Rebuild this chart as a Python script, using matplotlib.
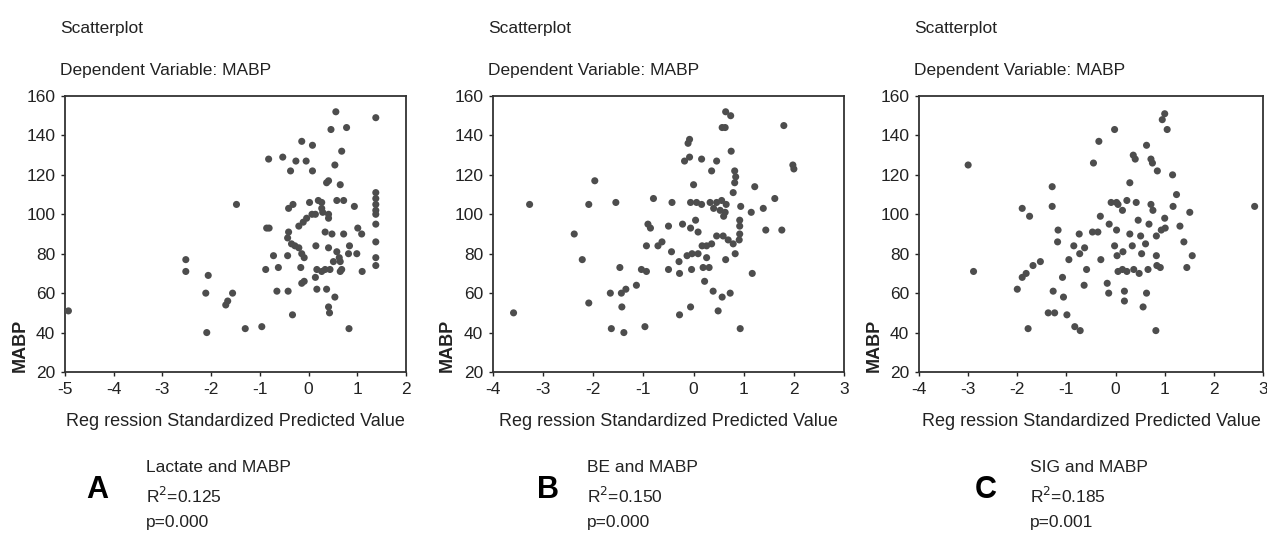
import matplotlib
matplotlib.use("Agg")
import matplotlib.pyplot as plt

FONT = ["Liberation Sans Narrow", "Liberation Sans", "DejaVu Sans"]
plt.rcParams['font.family'] = FONT

# ---------------- data ----------------
x_ticks_a = [-5, -4, -3, -2, -1, 0, 1, 2]
x_ticks_bc = [-4, -3, -2, -1, 0, 1, 2, 3]
y_ticks = [20, 40, 60, 80, 100, 120, 140, 160]

a_x = [-4.93, -1.48, -2.52, -2.52, -2.06, -2.11, -2.09, -1.70, -1.66, -1.56,
       -1.30, -0.96, -0.86, -0.81, -0.82, -0.53, -0.26, -0.05, -0.37, -0.14,
       0.08, 0.08, 0.56, 0.46, 0.78, 1.38, 0.68, 0.54, 0.37, 0.41,
       0.65, 0.58, 0.72, 0.94, 1.38, 1.38, 1.38, 1.38, 1.38, 1.38,
       1.38, 1.38, 1.38, 1.10, 1.01, 1.09, 0.84, 0.82, 0.99, 0.83,
       0.54, 0.41, 0.43, 0.37, 0.17, -0.14, -0.09, -0.33, -0.65, -0.42,
       -0.88, -0.62, -0.72, -0.43, -0.41, -0.43, -0.35, -0.28, -0.20, -0.14,
       -0.09, -0.16, -0.41, -0.32, -0.20, -0.11, -0.04, 0.07, 0.14, 0.02,
       0.20, 0.27, 0.27, 0.29, 0.41, 0.41, 0.15, 0.17, 0.27, 0.34,
       0.44, 0.14, 0.41, 0.34, 0.48, 0.72, 0.58, 0.63, 0.65, 0.68,
       0.65, 0.51]
a_y = [51, 105, 77, 71, 69, 60, 40, 54, 56, 60,
       42, 43, 93, 93, 128, 129, 127, 127, 122, 137,
       135, 122, 152, 143, 144, 149, 132, 125, 116, 117,
       115, 107, 107, 104, 111, 108, 105, 102, 100, 95,
       86, 78, 74, 71, 93, 90, 84, 80, 80, 42,
       58, 53, 50, 62, 62, 65, 66, 49, 61, 61,
       72, 73, 79, 79, 91, 88, 85, 84, 83, 80,
       78, 73, 103, 105, 94, 96, 98, 100, 100, 106,
       107, 106, 103, 101, 100, 98, 84, 72, 71, 72,
       72, 68, 83, 91, 90, 90, 81, 78, 76, 72,
       71, 76]

b_x = [-3.59, -3.27, -2.38, -2.22, -2.09, -1.97, -2.09, -1.55, -1.47, -1.66,
       -1.44, -1.35, -1.14, -1.43, -1.64, -1.39, -0.97, -1.04, -0.94, -0.91,
       -0.86, -0.94, -0.71, -0.63, -0.80, -0.50, -0.43, -0.44, -0.50, -0.28,
       -0.29, -0.28, -0.22, -0.18, -0.08, -0.11, -0.08, -0.06, -0.04, 0.00,
       -0.06, 0.06, 0.16, 0.04, 0.09, -0.06, -0.13, -0.03, 0.09, 0.17,
       0.26, 0.36, 0.19, 0.26, 0.31, 0.16, 0.36, 0.46, 0.39, 0.22,
       0.49, 0.57, 0.73, 0.57, 0.63, 0.64, 0.74, 0.75, 0.33, 0.46,
       0.56, 0.65, 0.40, 0.53, 0.63, 0.60, 0.82, 0.84, 0.82, 0.79,
       0.94, 0.46, 0.59, 0.69, 0.79, 0.92, 0.92, 0.92, 0.91, 0.64,
       0.83, 0.93, 1.15, 1.22, 1.17, 1.39, 1.44, 1.62, 1.76, 1.80,
       1.98, 2.00]
b_y = [50, 105, 90, 77, 105, 117, 55, 106, 73, 60,
       60, 62, 64, 53, 42, 40, 43, 72, 71, 95,
       93, 84, 84, 86, 108, 94, 106, 81, 72, 70,
       76, 49, 95, 127, 129, 136, 138, 53, 72, 115,
       106, 106, 105, 97, 91, 93, 79, 80, 80, 84,
       84, 85, 73, 78, 73, 128, 122, 127, 61, 66,
       51, 58, 60, 144, 144, 152, 150, 132, 106, 106,
       107, 105, 103, 102, 101, 99, 122, 119, 116, 111,
       104, 89, 89, 87, 85, 97, 94, 90, 87, 77,
       80, 42, 101, 114, 70, 103, 92, 108, 92, 145,
       125, 123]

c_x = [-3.00, -2.89, 2.83, -2.00, -1.90, -1.75, -1.78, -1.90, -1.82, -1.68,
       -1.53, -1.29, -1.29, -1.27, -1.17, -1.18, -1.06, -1.08, -1.37, -1.24,
       -0.99, -0.95, -0.83, -0.72, -0.85, -0.73, -0.63, -0.74, -0.64, -0.59,
       -0.45, -0.34, -0.47, -0.36, -0.31, -0.30, -0.17, -0.14, -0.13, 0.02,
       -0.02, -0.09, 0.02, 0.05, 0.14, -0.02, 0.03, 0.15, 0.05, 0.14,
       0.23, 0.18, 0.18, 0.29, 0.23, 0.42, 0.29, 0.34, 0.36, 0.40,
       0.46, 0.37, 0.48, 0.56, 0.53, 0.61, 0.51, 0.63, 0.72, 0.75,
       0.63, 0.68, 0.72, 0.76, 0.66, 0.84, 0.83, 0.91, 0.85, 0.82,
       0.83, 0.93, 1.01, 0.95, 1.00, 1.05, 1.00, 1.16, 1.17, 1.24,
       1.31, 1.39, 1.45, 1.51, 1.56]
c_y = [125, 71, 104, 62, 103, 99, 42, 68, 70, 74,
       76, 114, 104, 61, 92, 86, 58, 68, 50, 50,
       49, 77, 43, 41, 84, 80, 83, 90, 64, 72,
       126, 137, 91, 91, 99, 77, 65, 60, 95, 92,
       143, 106, 106, 105, 102, 84, 79, 81, 71, 72,
       71, 61, 56, 116, 107, 106, 90, 84, 130, 128,
       97, 72, 70, 53, 80, 85, 89, 135, 128, 126,
       60, 95, 105, 102, 72, 74, 79, 73, 122, 41,
       89, 92, 93, 148, 151, 143, 98, 120, 104, 110,
       94, 86, 73, 101, 79]

panels = [
    dict(x=a_x, y=a_y, xt=x_ticks_a, letter="A", name="Lactate and MABP",
         r2="0.125", p="0.000", px=(65, 406), letter_px=86, text_px=146),
    dict(x=b_x, y=b_y, xt=x_ticks_bc, letter="B", name="BE and MABP",
         r2="0.150", p="0.000", px=(493, 844), letter_px=537, text_px=587),
    dict(x=c_x, y=c_y, xt=x_ticks_bc, letter="C", name="SIG and MABP",
         r2="0.185", p="0.001", px=(919, 1263), letter_px=975, text_px=1030),
]

W, H = 1267, 542
fig = plt.figure(figsize=(W / 100, H / 100), dpi=100)
top_px, bot_px = 96, 372

text_col = "#222222"
for pn in panels:
    l, r = pn["px"]
    ax = fig.add_axes([l / W, 1 - bot_px / H, (r - l) / W, (bot_px - top_px) / H])
    ax.scatter(pn["x"], pn["y"], s=26, color="#4d4d4d", edgecolors="none", zorder=3)
    ax.set_xlim(pn["xt"][0], pn["xt"][-1])
    ax.set_ylim(20, 160)
    ax.set_xticks(pn["xt"])
    ax.set_yticks(y_ticks)
    ax.set_xticklabels([str(v) for v in pn["xt"]])
    ax.tick_params(direction="out", length=3, width=1, labelsize=12.5,
                   colors=text_col, pad=4)
    for s in ax.spines.values():
        s.set_linewidth(1.3)
        s.set_color("#333333")
    ax.set_xlabel("Reg ression Standardized Predicted Value", fontsize=13,
                  color=text_col, labelpad=12)
    ax.text(-0.13, 0.0, "MABP", transform=ax.transAxes, rotation=90,
            fontsize=13, fontweight="bold", color=text_col, ha="center", va="bottom")
    # titles
    fig.text((l - 5) / W, 1 - 28 / H, "Scatterplot", fontsize=12.5,
             color=text_col, va="center", ha="left")
    fig.text((l - 5) / W, 1 - 70 / H, "Dependent Variable: MABP", fontsize=12.5,
             color=text_col, va="center", ha="left")
    # annotation block
    lx = pn["text_px"]
    fig.text(pn["letter_px"] / W, 1 - 490 / H, pn["letter"], fontsize=22,
             fontweight="bold", family=["Liberation Sans", "DejaVu Sans"],
             color="black", va="center", ha="left")
    fig.text(lx / W, 1 - 467 / H, pn["name"], fontsize=12.5, color=text_col,
             va="center", ha="left")
    fig.text(lx / W, 1 - 496 / H, "R$^2$=" + pn["r2"], fontsize=12.5,
             color=text_col, va="center", ha="left")
    fig.text(lx / W, 1 - 523 / H, "p=" + pn["p"], fontsize=12.5, color=text_col,
             va="center", ha="left")

fig.savefig("out.png", dpi=100)
